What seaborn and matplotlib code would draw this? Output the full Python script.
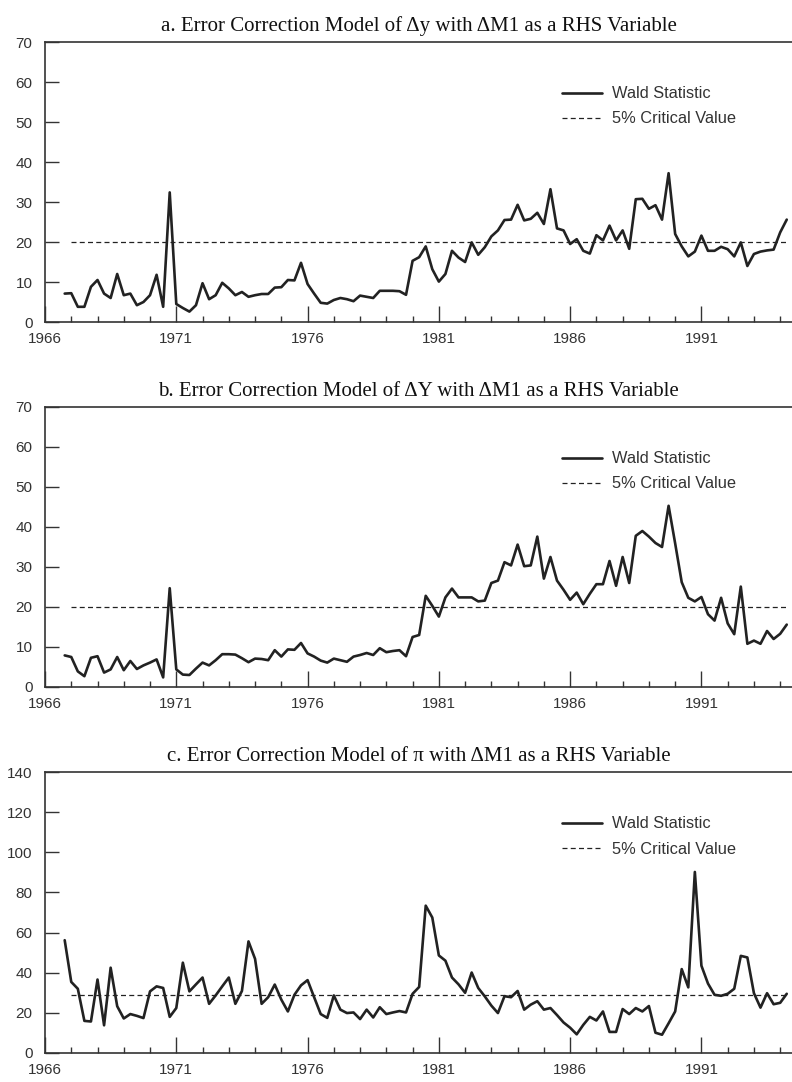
# Wald statistics for error correction models, three panels

import numpy as np
import pandas as pd
import matplotlib
matplotlib.use("Agg")
import matplotlib.pyplot as plt
import seaborn as sns

sns.set_theme(style="ticks")
plt.rcParams['font.family'] = ['Liberation Sans', 'DejaVu Sans']

# ================================
# data (quarterly, 1966Q4 - 1994Q2)
# ================================
quarters = pd.period_range("1966Q4", "1994Q2", freq="Q")
dates = quarters.year + (quarters.quarter - 1) / 4.0

wald_a = [7.1, 7.2, 3.8, 3.8, 8.8, 10.5, 7.1, 6.0, 12.0, 6.7,
          7.1, 4.2, 5.0, 6.7, 11.8, 3.8, 32.4, 4.5, 3.5, 2.6,
          4.2, 9.7, 5.7, 6.7, 9.8, 8.4, 6.7, 7.5, 6.3, 6.7,
          7.0, 7.0, 8.6, 8.7, 10.5, 10.4, 14.8, 9.5, 7.1, 4.8,
          4.6, 5.5, 6.0, 5.7, 5.2, 6.6, 6.3, 6.0, 7.8, 7.8,
          7.8, 7.7, 6.8, 15.3, 16.2, 18.9, 13.2, 10.1, 12.0, 17.8,
          16.1, 15.0, 19.9, 16.8, 18.7, 21.4, 22.9, 25.5, 25.6, 29.3,
          25.4, 25.8, 27.3, 24.5, 33.2, 23.4, 22.9, 19.5, 20.7, 17.8,
          17.1, 21.7, 20.4, 24.1, 20.4, 22.9, 18.3, 30.7, 30.8, 28.3,
          29.2, 25.6, 37.2, 22.0, 18.9, 16.4, 17.6, 21.6, 17.8, 17.8,
          18.8, 18.2, 16.4, 19.9, 14.0, 17.0, 17.6, 17.9, 18.1, 22.4,
          25.6]

wald_b = [7.9, 7.5, 3.9, 2.7, 7.3, 7.7, 3.6, 4.4, 7.5, 4.2,
          6.5, 4.5, 5.4, 6.1, 6.9, 2.4, 24.7, 4.4, 3.1, 3.0,
          4.6, 6.1, 5.4, 6.7, 8.2, 8.2, 8.1, 7.2, 6.2, 7.1,
          7.0, 6.7, 9.2, 7.6, 9.4, 9.3, 11.0, 8.4, 7.6, 6.6,
          6.1, 7.1, 6.7, 6.3, 7.6, 8.0, 8.5, 8.0, 9.7, 8.7,
          9.0, 9.2, 7.7, 12.5, 13.0, 22.8, 20.3, 17.6, 22.4, 24.6,
          22.4, 22.4, 22.4, 21.4, 21.6, 26.0, 26.6, 31.2, 30.4, 35.6,
          30.2, 30.4, 37.6, 27.1, 32.5, 26.6, 24.3, 21.8, 23.6, 20.7,
          23.3, 25.7, 25.7, 31.5, 25.3, 32.5, 26.0, 37.8, 39.0, 37.6,
          36.0, 35.0, 45.3, 35.9, 26.2, 22.3, 21.4, 22.5, 18.2, 16.6,
          22.3, 15.9, 13.2, 25.1, 10.8, 11.6, 10.8, 14.0, 12.0, 13.3,
          15.6]

wald_c = [56.2, 35.4, 32.0, 16.0, 15.7, 36.6, 13.8, 42.5, 23.3, 17.2,
          19.4, 18.5, 17.4, 30.7, 33.2, 32.4, 18.0, 22.4, 45.0, 30.7,
          34.2, 37.6, 24.5, 28.7, 33.2, 37.6, 24.5, 30.9, 55.6, 46.9,
          24.5, 27.8, 34.1, 26.6, 20.7, 29.0, 33.7, 36.3, 27.8, 19.4,
          17.5, 28.7, 21.6, 19.9, 20.2, 16.9, 21.6, 17.7, 22.8, 19.4,
          20.2, 20.9, 20.2, 29.5, 32.9, 73.4, 67.5, 48.6, 46.0, 37.6,
          34.2, 30.0, 40.1, 32.4, 28.2, 23.6, 19.9, 28.3, 27.8, 30.9,
          21.6, 24.1, 25.8, 21.6, 22.4, 18.9, 15.2, 12.6, 9.3, 14.0,
          18.0, 16.2, 20.7, 10.5, 10.5, 21.9, 19.4, 22.4, 20.7, 23.4,
          10.1, 9.1, 14.8, 20.7, 41.8, 32.7, 90.2, 43.5, 34.6, 29.0,
          28.5, 29.5, 32.0, 48.4, 47.6, 29.8, 22.6, 29.8, 24.3, 25.0,
          29.5]

crit_values = [20.0, 20.0, 29.0]
crit_start = 1967.0

titles = ["a. Error Correction Model of \u0394y with \u0394M1 as a RHS Variable",
          "b. Error Correction Model of \u0394Y with \u0394M1 as a RHS Variable",
          "c. Error Correction Model of \u03c0 with \u0394M1 as a RHS Variable"]
y_tops = [70, 70, 140]
y_steps = [10, 10, 20]
year_labels = [1966, 1971, 1976, 1981, 1986, 1991]
minor_years = list(range(1967, 1995))

# ================================
# figure
# ================================
fig = plt.figure(figsize=(7.92, 10.82), dpi=100)
W, H = 792.0, 1082.0
# (top, bottom) in pixels of each panel
panel_px = [(42, 322), (407, 687), (772, 1053)]

ink = "#222222"
grey = "#333333"

for i, series in enumerate([wald_a, wald_b, wald_c]):
    top, bottom = panel_px[i]
    ax = fig.add_axes([45 / W, 1 - bottom / H, (W - 45) / W, (bottom - top) / H])

    df = pd.DataFrame({"date": dates, "wald": series})
    crit = df[df["date"] >= crit_start].assign(crit=crit_values[i])

    sns.lineplot(data=df, x="date", y="wald", ax=ax, color=ink,
                 lw=1.9, label="Wald Statistic")
    sns.lineplot(data=crit, x="date", y="crit", ax=ax, color=ink,
                 lw=0.9, label="5% Critical Value")
    ax.lines[-1].set_dashes((4, 2.6))

    ax.set_xlim(1966, 1994.45)
    ax.set_ylim(0, y_tops[i])
    ax.set_xticks(year_labels)
    ax.set_xticks(minor_years, minor=True)
    ax.set_yticks(range(0, y_tops[i] + 1, y_steps[i]))
    ax.set_xlabel("")
    ax.set_ylabel("")

    ax.tick_params(axis="x", which="major", direction="in", length=11.5,
                   width=1.0, pad=7, labelsize=11, colors=grey,
                   bottom=True, top=False)
    ax.tick_params(axis="x", which="minor", direction="in", length=4.3,
                   width=1.0, colors=grey, bottom=True, top=False)
    ax.tick_params(axis="y", direction="in", length=10, width=1.0,
                   pad=9, labelsize=11, colors=grey, left=True, right=False)

    sns.despine(ax=ax, top=False, right=True)
    for s in ["left", "bottom", "top"]:
        ax.spines[s].set_color(grey)
        ax.spines[s].set_linewidth(1.2)

    ax.set_title(titles[i], fontfamily="Liberation Serif", fontsize=15,
                 color="#111111", pad=8)

    leg = ax.legend(loc="upper left", bbox_to_anchor=(0.692, 0.842),
                    frameon=False, fontsize=11.8, handlelength=2.45,
                    handletextpad=0.62, labelspacing=0.62,
                    borderpad=0, borderaxespad=0)
    for t in leg.get_texts():
        t.set_color(grey)

fig.savefig("out.png", dpi=100)
